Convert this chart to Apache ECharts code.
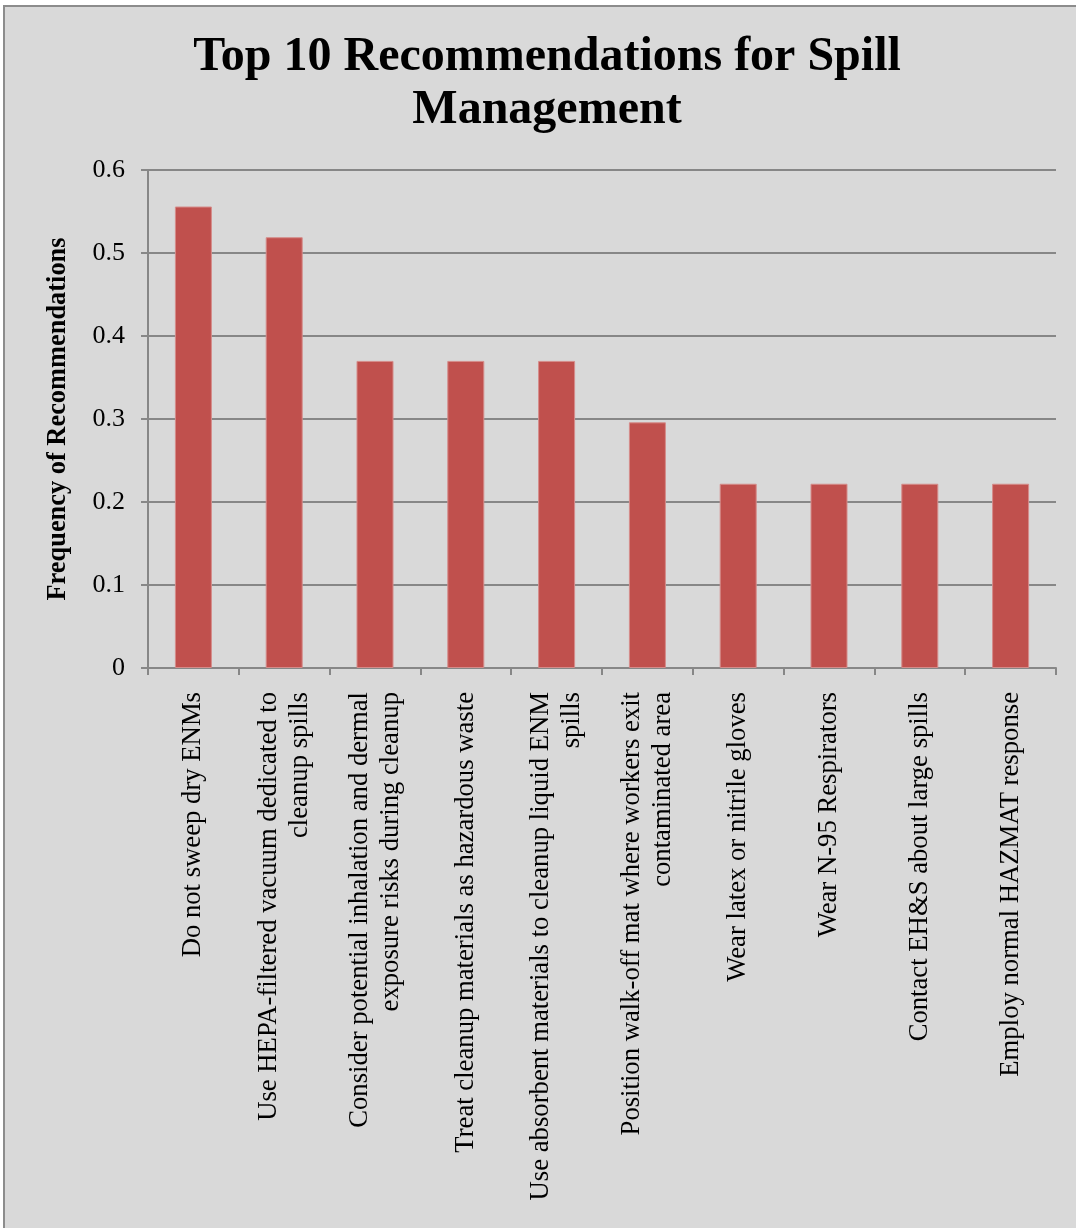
<!DOCTYPE html>
<html>
<head>
<meta charset="utf-8">
<script src="https://cdn.jsdelivr.net/npm/echarts@6/dist/echarts.min.js"></script>
<style>
html,body{margin:0;padding:0;background:#fff;}
#c{width:1076px;height:1228px;}
</style>
</head>
<body>
<div id="c"></div>
<script>
const categories = [
  "Do not sweep dry ENMs",
  "Use HEPA-filtered vacuum dedicated to\ncleanup spills",
  "Consider potential inhalation and dermal\nexposure risks during cleanup",
  "Treat cleanup materials as hazardous waste",
  "Use absorbent materials to cleanup liquid ENM\nspills",
  "Position walk-off mat where workers exit\ncontaminated area",
  "Wear latex or nitrile gloves",
  "Wear N-95 Respirators",
  "Contact EH&S about large spills",
  "Employ normal HAZMAT response"
];
const values = [0.556, 0.519, 0.370, 0.370, 0.370, 0.296, 0.222, 0.222, 0.222, 0.222];
const titleText = "Top 10 Recommendations for Spill\nManagement";
const yAxisName = "Frequency of Recommendations";

const FONT = "'Liberation Serif', 'Times New Roman', serif";
const GRID = '#878787';

const chart = echarts.init(document.getElementById('c'), null, {renderer: 'canvas'});
chart.setOption({
  backgroundColor: '#ffffff',
  animation: false,
  graphic: [{
    type: 'rect',
    z: -10,
    shape: {x: 4, y: 6, width: 1200, height: 1400},
    style: {fill: '#d9d9d9', stroke: '#8c8c8c', lineWidth: 2}
  }],
  title: {
    text: titleText,
    left: 542,
    top: 26,
    textAlign: 'center',
    textStyle: {fontFamily: FONT, fontWeight: 'bold', fontSize: 48, lineHeight: 53, color: '#000'}
  },
  grid: {left: 148, right: 20, top: 170, bottom: 560, containLabel: false},
  xAxis: {
    type: 'category',
    data: categories,
    boundaryGap: true,
    axisLine: {show: true, lineStyle: {color: GRID, width: 2}},
    axisTick: {show: true, length: 7, alignWithLabel: false, lineStyle: {color: GRID, width: 2}},
    axisLabel: {
      rotate: 90, margin: 24, interval: 0,
      fontFamily: FONT, fontSize: 26.7, lineHeight: 31, color: '#000'
    }
  },
  yAxis: {
    type: 'value',
    min: 0, max: 0.6, interval: 0.1,
    name: yAxisName,
    nameLocation: 'middle',
    nameGap: 77,
    nameTextStyle: {fontFamily: FONT, fontWeight: 'bold', fontSize: 26.4, color: '#000'},
    axisLine: {show: true, lineStyle: {color: GRID, width: 2}},
    axisTick: {show: true, length: 7, lineStyle: {color: GRID, width: 2}},
    axisLabel: {margin: 23, fontFamily: FONT, fontSize: 26, color: '#000',
      formatter: v => (Math.round(v * 10) / 10).toString()},
    splitLine: {show: true, lineStyle: {color: GRID, width: 2}}
  },
  series: [{
    type: 'bar',
    data: values,
    barWidth: 37,
    itemStyle: {color: '#c0504d', borderColor: '#d58c8a', borderWidth: 1}
  }]
});
</script>
</body>
</html>
